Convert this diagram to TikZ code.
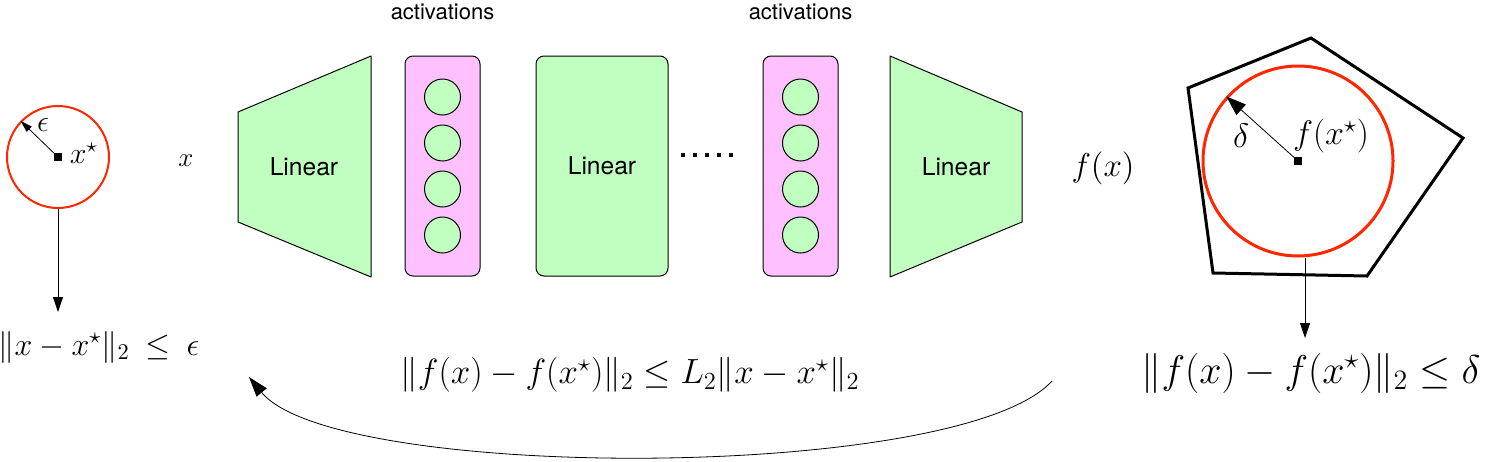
\documentclass[tikz,border=0pt]{standalone}
\usepackage{fix-cm}
\usepackage{fontspec}
\setsansfont{TeX Gyre Heros}
\usetikzlibrary{arrows.meta,positioning}
\definecolor{lingreen}{RGB}{192,255,192}
\definecolor{actpink}{RGB}{255,192,255}
\definecolor{ballred}{RGB}{255,38,0}
\newcommand{\msize}[1]{\fontsize{#1}{#1}\selectfont}

\begin{document}
\begin{tikzpicture}[x=0.5pt, y=-0.5pt,
    layer/.style = {draw, fill=lingreen, line width=0.5pt, line join=round},
    actbox/.style = {draw, fill=actpink, rounded corners=4pt, minimum width=37.5pt,
                     minimum height=110pt, inner sep=0pt, line width=0.5pt},
    neuron/.style = {circle, draw, fill=lingreen, minimum size=18pt, inner sep=0pt, line width=0.5pt},
    ball/.style = {circle, draw=ballred, inner sep=0pt},
    centre/.style = {fill, minimum size=4pt, inner sep=0pt},
    lbl/.style = {font=\sffamily\msize{12.3}},
    actlbl/.style = {font=\sffamily\msize{11}},
    arr/.style = {-{Triangle[length=7.5pt,width=5pt]}, line width=0.4pt},
  ]
  \useasboundingbox (0,0) rectangle (1488,461);

  % input ball
  \node[ball, line width=1pt, minimum size=51pt] (ball1) at (58,157) {};
  \node[centre] (c1) at (ball1.center) {};
  \node[anchor=base west, inner sep=0pt, font=\msize{15}] (xs) at ([xshift=3.5pt,yshift=-3.2pt]c1.east) {$x^\star$};
  \draw[-{Triangle[length=6pt,width=3.5pt]}, line width=0.4pt] (c1.center) -- (ball1.136);
  \node[inner sep=0pt, font=\msize{15}] (eps) at (43,125) {$\epsilon$};
  \coordinate (tip1) at (58,312);
  \draw[arr] (ball1.south) -- (tip1);
  \node[font=\msize{16}] (bnd1) at (99,347) {$\|x-x^\star\|_2 \:\leq\: \epsilon$};

  \node[font=\msize{13.5}] (xin) at (186,161) {$x$};

  % Layer 1
  \filldraw[layer] (238,112) -- (371,56) -- (371,277) -- (238,222) -- cycle;
  \node[lbl] (lin1) at (304,167) {Linear};

  % activations
  \foreach \a/\x in {act1/442.5, act2/800.5} {
    \node[actbox] (\a) at (\x,166) {};
    \node[actlbl] (\a lbl) at (\x,12) {activations};
    \foreach \i/\y in {1/97, 2/143, 3/189, 4/235}
      \node[neuron] (\a n\i) at (\x,\y) {};
  }

  % Layer 2
  \node[draw, fill=lingreen, rounded corners=4pt, minimum width=66pt, minimum height=110pt,
        line width=0.5pt, lbl] (lin2) at (602,166) {Linear};
  \draw[line width=2pt, dash pattern=on 2pt off 4pt]
    ([xshift=6pt,yshift=5.5pt]lin2.east) -- ([xshift=-14pt,yshift=5.5pt]act2.west);

  % Layer 3
  \filldraw[layer] (890,56) -- (1022,112) -- (1022,222) -- (890,277) -- cycle;
  \node[lbl] (lin3) at (956,167) {Linear};

  \node[font=\msize{16.5}] (fout) at (1103,168) {$f(x)$};

  % output set
  \draw[line width=1.5pt, line join=miter] (1188,88) -- (1311,38) -- (1463,138) -- (1367,276) -- (1213,273) -- cycle;
  \node[ball, line width=1.5pt, minimum size=95pt] (ball2) at (1298,161) {};
  \node[centre] (c2) at (ball2.center) {};
  \draw[-{Triangle[length=10pt,width=7pt]}, line width=0.4pt] (c2.center) -- (ball2.138);
  \node[font=\msize{17}] (dlt) at (1241,136) {$\delta$};
  \node[font=\msize{17}] (fxs) at (1331,136) {$f(x^\star)$};
  \coordinate (tip2) at (1305,338);
  \draw[arr] (ball2.south -| tip2) -- (tip2);
  \node[font=\msize{20}] (bnd2) at (1311,373) {$\|f(x)-f(x^\star)\|_2 \leq \delta$};

  % Lipschitz bound
  \node[font=\msize{17.5}] (bnd) at (630,375) {$\|f(x)-f(x^\star)\|_2 \leq L_2\|x-x^\star\|_2$};
  \coordinate (cstart) at (1052,381);
  \coordinate (cend) at (249,377);
  \draw[-{Triangle[length=10pt,width=6.5pt]}, line width=0.4pt]
    (cstart) .. controls (960,482) and (335,482) .. (cend);
\end{tikzpicture}
\end{document}
